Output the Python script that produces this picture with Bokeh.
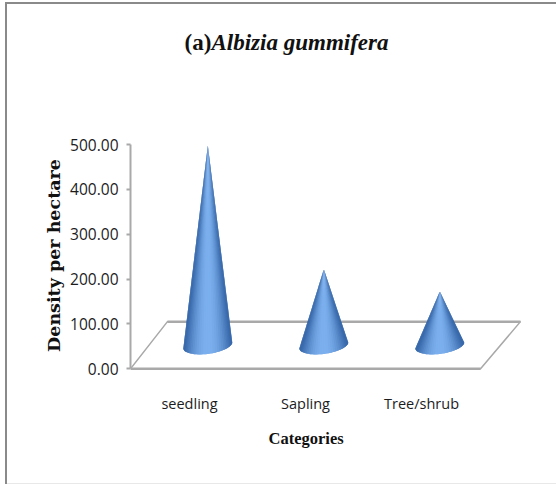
from bokeh.core.properties import value
from bokeh.embed import file_html
from bokeh.layouts import column
from bokeh.models import FixedTicker, Title
from bokeh.plotting import figure
from bokeh.resources import INLINE
import numpy as np

title_prefix = "(a)"
title_species = "Albizia gummifera"
x_title = "Categories"
y_title = "Density per hectare"
categories = ["seedling", "Sapling", "Tree/shrub"]
density = [446.0, 170.0, 120.0]
y_ticks = [0, 100, 200, 300, 400, 500]

X_PER_PX = 1 / 116
Y_PER_PX = 500 / 224
DEPTH_X = 0.158
BASE_Y = 52.0
RADIUS_X = 24.5 * X_PER_PX
RADIUS_Y = 8.5 * Y_PER_PX
TILT_Y = 3.0 * Y_PER_PX

GREY = "#a9a9a9"
TEXT = "#1c1c1c"
SHADE_DARK = np.array([50, 98, 164])
SHADE_LIGHT = np.array([124, 176, 238])
HEADER_HEIGHT = 125

# Header strip carrying the two-style chart title; its frame lines up with the plot below
header = figure(
    width=556,
    height=HEADER_HEIGHT,
    output_backend="svg",
    toolbar_location=None,
    x_range=(130, 521),
    y_range=(HEADER_HEIGHT, 0),
    x_axis_type=None,
    y_axis_type=None,
    min_border=0,
    outline_line_color=None,
    background_fill_color=None,
    border_fill_color=None,
)
header.grid.visible = False
header.text(x=[184], y=[42], text=[title_prefix], text_font=value("Liberation Serif"),
            text_font_style="bold", text_font_size="23px", text_color="#111111",
            text_baseline="alphabetic")
header.text(x=[211], y=[42], text=[title_species], text_font=value("Liberation Serif"),
            text_font_style="bold italic", text_font_size="23px", text_color="#111111",
            text_baseline="alphabetic")

p = figure(
    width=556,
    height=484 - HEADER_HEIGHT,
    output_backend="svg",
    toolbar_location=None,
    x_range=(-0.5086, 2.862),
    y_range=(-4, 509),
    min_border_left=130,
    min_border_right=35,
    min_border_top=15,
    min_border_bottom=114,
    outline_line_color=None,
    background_fill_color=None,
    border_fill_color=None,
)
p.grid.visible = False

# Floor of the 3D plot area
p.patch(
    [-0.5086, -0.19, 2.853, 2.509],
    [0, 105, 105, 0],
    fill_color="white",
    line_color=GREY,
    line_width=1.5,
)
p.line([-0.19, 2.853], [105, 105], line_color=GREY, line_width=2.5)
p.line([-0.5086, 2.509], [0, 0], line_color=GREY, line_width=2.5)

# Each cone is a fan of overlapping shaded facets from base rim to apex
angles = np.linspace(0, np.pi, 33)
for i, height in enumerate(density):
    cx = i + DEPTH_X
    top = BASE_Y + height
    rim_x = cx + RADIUS_X * np.cos(angles)
    rim_y = BASE_Y - RADIUS_Y * np.sin(angles) + TILT_Y * np.cos(angles)
    for k in range(len(angles) - 1):
        end = min(k + 2, len(angles) - 1)
        s = np.sin((angles[k] + angles[k + 1]) / 2)
        light = s ** 2.2 + 0.14 * np.exp(-((s / 0.22) ** 2))
        rgb = (SHADE_DARK + (SHADE_LIGHT - SHADE_DARK) * light).astype(int)
        colour = "#%02x%02x%02x" % tuple(rgb)
        p.patch(
            list(rim_x[k:end + 1]) + [cx],
            list(rim_y[k:end + 1]) + [top],
            fill_color=colour,
            line_color=None,
        )

# Axes
p.yaxis.ticker = FixedTicker(ticks=y_ticks)
p.yaxis.bounds = (0, 500)
p.yaxis.major_label_overrides = {v: f"{v:.2f}" for v in y_ticks}
p.yaxis.major_label_text_font = "Open Sans"
p.yaxis.major_label_text_font_size = "15.5px"
p.yaxis.major_label_text_color = TEXT
p.yaxis.major_label_standoff = 8
p.yaxis.axis_line_color = GREY
p.yaxis.axis_line_width = 2
p.yaxis.major_tick_line_color = GREY
p.yaxis.major_tick_line_width = 2
p.yaxis.major_tick_in = 0
p.yaxis.major_tick_out = 4
p.yaxis.minor_tick_line_color = None
p.yaxis.axis_label = y_title
p.yaxis.axis_label_text_font = "DejaVu Serif"
p.yaxis.axis_label_text_font_style = "bold"
p.yaxis.axis_label_text_font_size = "17.5px"
p.yaxis.axis_label_text_color = "#111111"
p.yaxis.axis_label_standoff = 3

p.xaxis.ticker = FixedTicker(ticks=[0, 1, 2])
p.xaxis.major_label_overrides = dict(enumerate(categories))
p.xaxis.major_label_text_font = "Open Sans"
p.xaxis.major_label_text_font_size = "14.5px"
p.xaxis.major_label_text_color = TEXT
p.xaxis.major_label_standoff = 17
p.xaxis.axis_line_color = None
p.xaxis.major_tick_line_color = None
p.xaxis.minor_tick_line_color = None

# Caption under the category labels, placed off-centre relative to the plot frame
p.add_layout(Title(text=x_title, align="left", offset=138, standoff=22,
                   text_font="Liberation Serif", text_font_style="bold",
                   text_font_size="16.5px", text_color="#111111"), "below")

# Chart-area frame painted behind the transparent figures
line = "linear-gradient(#8a8a8a, #8a8a8a)"
faint = "linear-gradient(#e8e8e8, #e8e8e8)"
page = column(
    header,
    p,
    spacing=0,
    styles={
        "background-image": f"{line}, {line}, {faint}",
        "background-size": "2px 100%, 100% 2px, 100% 1px",
        "background-position": "5px 2px, 5px 2px, 5px 483px",
        "background-repeat": "no-repeat",
    },
)

open("out.html", "w").write(file_html(page, INLINE))
